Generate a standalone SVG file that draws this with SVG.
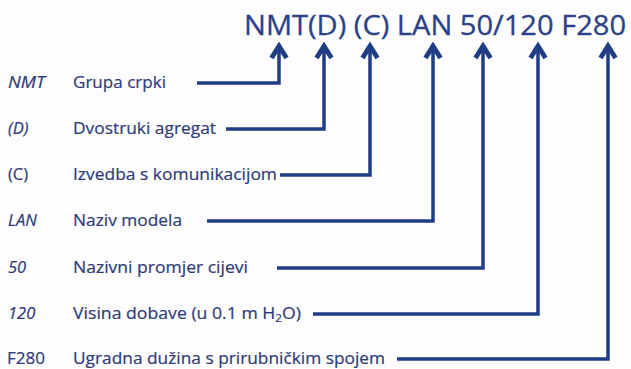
<svg xmlns="http://www.w3.org/2000/svg" width="631" height="369" viewBox="0 0 631 369">
<style>
.bg{fill:#fdfdfd}
.title{font-family:"Open Sans","Liberation Sans",sans-serif;font-size:28px;fill:#2c4187;stroke:#2c4187;stroke-width:0.3}
.code{font-family:"Open Sans","Liberation Sans",sans-serif;font-size:16.5px;fill:#2f3a78;stroke:#2f3a78;stroke-width:0.2}
.it{font-style:italic}
.desc{font-family:"Open Sans","Liberation Sans",sans-serif;font-size:16.5px;fill:#2f3a78;stroke:#2f3a78;stroke-width:0.2}
.conn{fill:none;stroke:#1f3d85;stroke-width:3.5;stroke-linejoin:miter;marker-end:url(#arr)}
</style>
<defs>
<marker id="arr" markerUnits="userSpaceOnUse" viewBox="-16 -10 20 20" refX="0" refY="0" markerWidth="20" markerHeight="20" orient="auto">
<path d="M-12,-7.5 L0,0 L-12,7.5" fill="none" stroke="#1f3d85" stroke-width="4.8" stroke-linejoin="miter"/>
</marker>
</defs>
<rect class="bg" x="0" y="0" width="631" height="369"/>
<g id="title">
<text class="title" x="244" y="35" textLength="382" lengthAdjust="spacingAndGlyphs">NMT(D) (C) LAN 50/120 F280</text>
</g>
<g id="connectors">
<path class="conn" d="M197,83 H279 V46"/>
<path class="conn" d="M226,129 H324 V46"/>
<path class="conn" d="M280,175 H370 V46"/>
<path class="conn" d="M207,221 H433 V46"/>
<path class="conn" d="M277,268 H483 V46"/>
<path class="conn" d="M313,314 H538 V46"/>
<path class="conn" d="M397,359 H608 V46"/>
</g>
<g id="row-nmt">
<text class="code it" x="8" y="88" textLength="37" lengthAdjust="spacingAndGlyphs">NMT</text>
<text class="desc" x="73" y="88" textLength="93" lengthAdjust="spacingAndGlyphs">Grupa crpki</text>
</g>
<g id="row-d">
<text class="code it" x="8" y="134">(D)</text>
<text class="desc" x="73" y="134" textLength="143" lengthAdjust="spacingAndGlyphs">Dvostruki agregat</text>
</g>
<g id="row-c">
<text class="code" x="8" y="180">(C)</text>
<text class="desc" x="73" y="180" textLength="204" lengthAdjust="spacingAndGlyphs">Izvedba s komunikacijom</text>
</g>
<g id="row-lan">
<text class="code it" x="8" y="226">LAN</text>
<text class="desc" x="73" y="226" textLength="109" lengthAdjust="spacingAndGlyphs">Naziv modela</text>
</g>
<g id="row-50">
<text class="code it" x="8" y="273">50</text>
<text class="desc" x="73" y="273" textLength="175" lengthAdjust="spacingAndGlyphs">Nazivni promjer cijevi</text>
</g>
<g id="row-120">
<text class="code it" x="8" y="319">120</text>
<text class="desc" x="73" y="319" textLength="228" lengthAdjust="spacingAndGlyphs">Visina dobave (u 0.1 m H<tspan font-size="11" dy="3">2</tspan><tspan dy="-3">O)</tspan></text>
</g>
<g id="row-f280">
<text class="code" x="7" y="364" textLength="38" lengthAdjust="spacingAndGlyphs">F280</text>
<text class="desc" x="73" y="364" textLength="312" lengthAdjust="spacingAndGlyphs">Ugradna dužina s prirubničkim spojem</text>
</g>
</svg>
